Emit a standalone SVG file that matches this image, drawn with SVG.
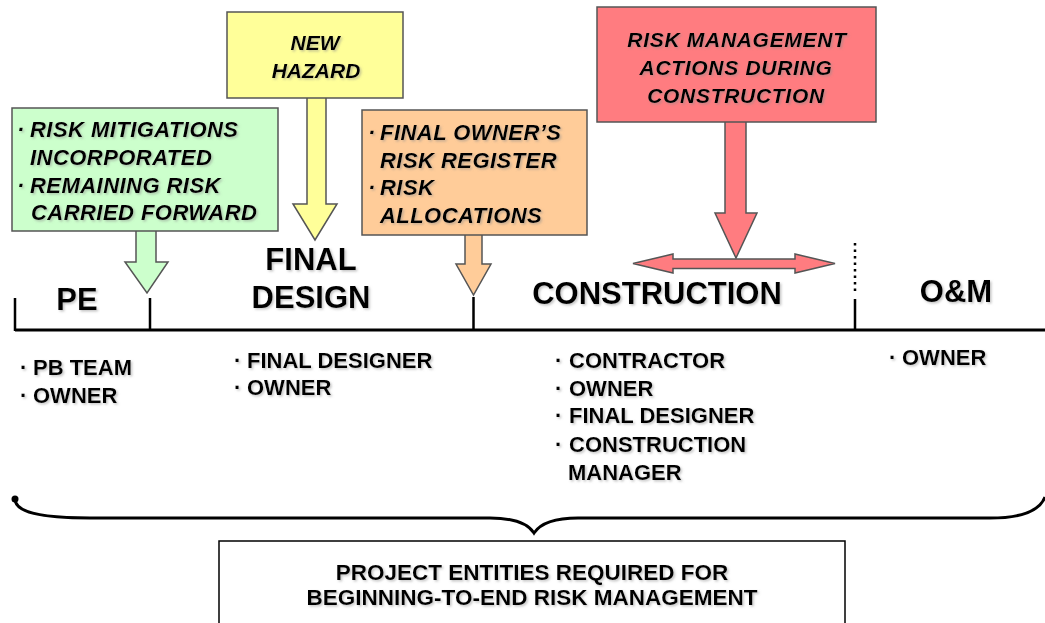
<svg xmlns="http://www.w3.org/2000/svg" width="1045" height="623" viewBox="0 0 1045 623">
<defs>
<filter id="sh" x="-5%" y="-20%" width="110%" height="140%">
<feDropShadow dx="1.5" dy="1.5" stdDeviation="0.8" flood-color="#888" flood-opacity="0.5"/>
</filter>
</defs>
<style>
text{font-family:"Liberation Sans",Arial,sans-serif;font-weight:bold;fill:#000;filter:url(#sh)}
.bi{font-style:italic;font-size:22px;letter-spacing:0.45px}
.bi21{font-style:italic;font-size:21px;letter-spacing:0.7px}
.bi21n{font-style:italic;font-size:21px}
.hd{font-size:31px}
.ls{font-size:22px}
.box{stroke:#555;stroke-width:1.5}
.g{fill:#CCFFCC}.y{fill:#FFFF99}.o{fill:#FFCC99}.r{fill:#FF7C80}
.tl{stroke:#000;stroke-width:3;fill:none}
.tk{stroke:#000;stroke-width:2.5;fill:none}
</style>
<rect width="1045" height="623" fill="#fff"/>

<g id="connectors">
<path class="box g" d="M136,230.5 L136,262 L125,262 L147,293 L168,262 L156,262 L156,230.5"/>
<path class="box y" d="M307,97 L307,204 L293,204 L315,240 L337,204 L326,204 L326,97"/>
<path class="box o" d="M465,234 L465,264 L456,264 L473.5,295 L491,264 L482,264 L482,234"/>
<path class="box r" d="M725,121 L725,213 L715,213 L736,258 L757,213 L746,213 L746,121"/>
<polygon class="box r" points="633,263.5 673,254 673,259 795,259 795,254 835,263.5 795,273 795,268.5 673,268.5 673,273"/>
<path class="tl" d="M15,330 L1045,330"/>
<path class="tk" d="M15,298 L15,331 M150,298 L150,331 M473.5,297 L473.5,331 M855,299 L855,331"/>
<path d="M855,243 L855,295" stroke="#000" stroke-width="2.5" stroke-dasharray="2.5,4" fill="none"/>
<path d="M15,499 C15,512 40,518 90,518 L490,518 C515,518 528,524 534,533 C540,524 553,518 578,518 L990,518 C1025,518 1040,510 1045,497" stroke="#000" stroke-width="3" fill="none"/>
<circle cx="15" cy="499" r="3.5" fill="#000"/>
</g>

<g id="green-box">
<rect class="box g" x="12" y="108" width="266" height="123"/>
<text class="bi"><tspan x="17" y="137">·</tspan><tspan x="30" y="137">RISK MITIGATIONS</tspan></text>
<text class="bi" x="30" y="165">INCORPORATED</text>
<text class="bi"><tspan x="17" y="193">·</tspan><tspan x="30" y="193">REMAINING RISK</tspan></text>
<text class="bi" x="31" y="220">CARRIED FORWARD</text>
</g>

<g id="yellow-box">
<rect class="box y" x="227" y="12" width="176" height="86"/>
<text class="bi21n" x="315" y="50" text-anchor="middle">NEW</text>
<text class="bi21n" x="316" y="78" text-anchor="middle">HAZARD</text>
</g>

<g id="orange-box">
<rect class="box o" x="362" y="110" width="225" height="125"/>
<text class="bi"><tspan x="368" y="140">·</tspan><tspan x="380" y="140">FINAL OWNER’S</tspan></text>
<text class="bi" x="380" y="168">RISK REGISTER</text>
<text class="bi"><tspan x="368" y="195">·</tspan><tspan x="380" y="195">RISK</tspan></text>
<text class="bi" x="380" y="223">ALLOCATIONS</text>
</g>

<g id="red-box">
<rect class="box r" x="597" y="7" width="279" height="115"/>
<text class="bi21" x="737" y="47" text-anchor="middle">RISK MANAGEMENT</text>
<text class="bi21" x="736" y="75" text-anchor="middle">ACTIONS DURING</text>
<text class="bi21" x="736" y="103" text-anchor="middle">CONSTRUCTION</text>
</g>

<g id="phase-pe">
<text class="hd" x="77" y="310" text-anchor="middle">PE</text>
<text class="ls"><tspan x="20" y="375">·</tspan><tspan x="33" y="375">PB TEAM</tspan></text>
<text class="ls"><tspan x="20" y="403">·</tspan><tspan x="33" y="403">OWNER</tspan></text>
</g>

<g id="phase-final-design">
<text class="hd" x="311" y="270" text-anchor="middle">FINAL</text>
<text class="hd" x="311" y="308" text-anchor="middle">DESIGN</text>
<text class="ls"><tspan x="234" y="368">·</tspan><tspan x="247" y="368">FINAL DESIGNER</tspan></text>
<text class="ls"><tspan x="234" y="395">·</tspan><tspan x="247" y="395">OWNER</tspan></text>
</g>

<g id="phase-construction">
<text class="hd" x="657" y="304" text-anchor="middle">CONSTRUCTION</text>
<text class="ls"><tspan x="555" y="368">·</tspan><tspan x="569" y="368">CONTRACTOR</tspan></text>
<text class="ls"><tspan x="555" y="396">·</tspan><tspan x="569" y="396">OWNER</tspan></text>
<text class="ls"><tspan x="555" y="423">·</tspan><tspan x="569" y="423">FINAL DESIGNER</tspan></text>
<text class="ls"><tspan x="555" y="452">·</tspan><tspan x="569" y="452">CONSTRUCTION</tspan></text>
<text class="ls" x="568" y="480">MANAGER</text>
</g>

<g id="phase-om">
<text class="hd" x="956" y="302" text-anchor="middle">O&amp;M</text>
<text class="ls"><tspan x="889" y="365">·</tspan><tspan x="902" y="365">OWNER</tspan></text>
</g>

<g id="summary-box">
<rect x="219" y="541" width="626" height="100" fill="#fff" stroke="#000" stroke-width="1.5"/>
<text x="532" y="580" text-anchor="middle" font-size="22.5">PROJECT ENTITIES REQUIRED FOR</text>
<text x="532" y="605" text-anchor="middle" font-size="22.5">BEGINNING-TO-END RISK MANAGEMENT</text>
</g>
</svg>
